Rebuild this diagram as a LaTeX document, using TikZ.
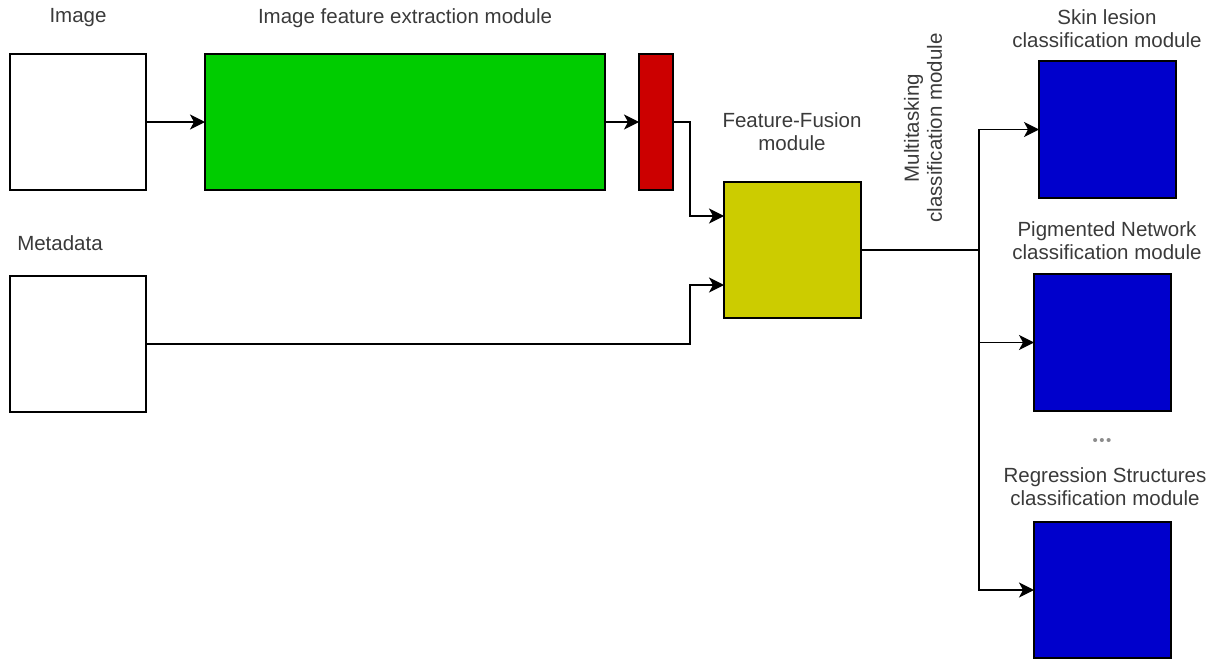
\documentclass[tikz,border=0pt]{standalone}
\usepackage{fontspec}
\setmainfont{Liberation Sans}
\usetikzlibrary{arrows.meta}
\definecolor{fgreen}{HTML}{00CC00}
\definecolor{fred}{HTML}{CC0000}
\definecolor{fyellow}{HTML}{CCCC00}
\definecolor{fblue}{HTML}{0000CC}
\definecolor{txt}{HTML}{3A3A3A}
\begin{document}
\begin{tikzpicture}[x=1pt,y=-1pt,
  box/.style={draw=black, line width=1.2pt, inner sep=0pt, outer sep=0pt},
  lbl/.style={text=txt, font=\fontsize{20.5}{23}\selectfont, align=center, inner sep=0pt},
  arr/.style={draw=black, line width=1.4pt, -{Stealth[length=15pt,width=15pt,inset=4pt]}},
  wire/.style={draw=black, line width=1.4pt}]
\useasboundingbox (0,0) rectangle (1215,659);

% input boxes and feature extractor
\node[box, fill=white, minimum width=136pt, minimum height=136pt] (img) at (78,122) {};
\node[box, fill=fgreen, minimum width=400pt, minimum height=136pt] (cnn) at (405,122) {};
\node[box, fill=fred, minimum width=34pt, minimum height=136pt] (vec) at (656,122) {};
\node[box, fill=white, minimum width=136pt, minimum height=136pt] (meta) at (78,344) {};
\node[box, fill=fyellow, minimum width=137pt, minimum height=136pt] (fuse) at (792.5,250) {};

% task heads
\node[box, fill=fblue, minimum width=137pt, minimum height=137pt] (head1) at (1107.5,129.5) {};
\node[box, fill=fblue, minimum width=137pt, minimum height=137pt] (head2) at (1102.5,342.5) {};
\node[box, fill=fblue, minimum width=137pt, minimum height=136pt] (head3) at (1102.5,590) {};

% labels
\node[lbl] (limg) at (78,18) {Image};
\node[lbl] (lcnn) at (405,18) {Image feature extraction module};
\node[lbl] (lmeta) at (60,243) {Metadata};
\node[lbl] (lfuse) at (792,132) {Feature-Fusion\\module};
\node[lbl, rotate=90] (lmulti) at (923,128) {Multitasking\\classification module};
\node[lbl] (lh1) at (1107,29) {Skin lesion\\classification module};
\node[lbl] (lh2) at (1107,241) {Pigmented Network\\classification module};
\node[lbl, text=black!45, font=\fontsize{15}{15}\selectfont] (dots) at (1102,442) {\textbullet\kern1.5pt\textbullet\kern1.5pt\textbullet};
\node[lbl] (lh3) at (1105,487) {Regression Structures\\classification module};

% routing points
\coordinate (j) at (690,0);
\coordinate (fin1) at (724,216);
\coordinate (fin2) at (724,285);
\coordinate (bus) at (979,250);

% connectors
\draw[arr] (img.east) -- (cnn.west);
\draw[arr] (cnn.east) -- (vec.west);
\draw[arr] (vec.east) -- (vec.east -| j) |- (fin1);
\draw[arr] (meta.east) -- (meta.east -| j) |- (fin2);
\draw[wire] (fuse.east) -- (bus);
\draw[arr] (bus) |- (head1.west);
\draw[arr] (bus) |- (head2.west);
\draw[arr] (bus) |- (head3.west);
\end{tikzpicture}
\end{document}
